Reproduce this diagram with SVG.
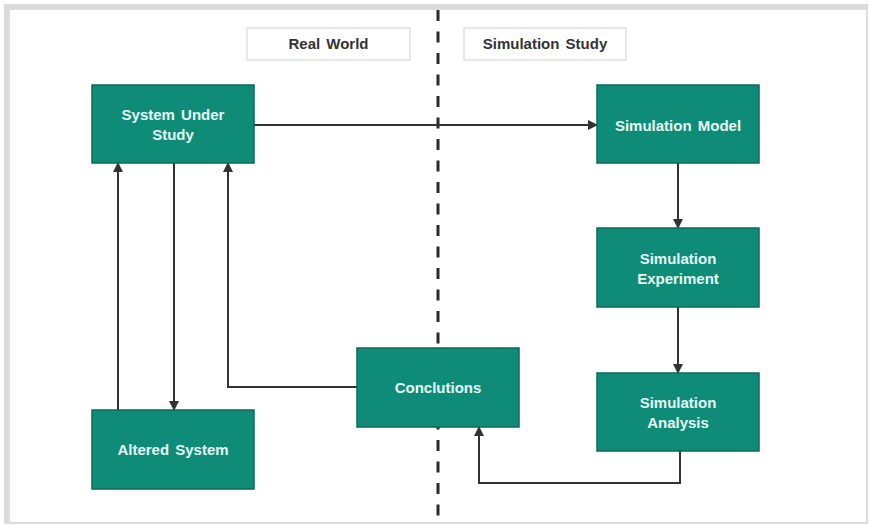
<svg xmlns="http://www.w3.org/2000/svg" width="869" height="525" viewBox="0 0 869 525">
  <style>
    .node rect { fill: #0f8c77; stroke: #0b6b5b; stroke-width: 1.5; }
    .node text { fill: #e6fbf5; font-family: "Liberation Sans", Arial, sans-serif; font-weight: bold; font-size: 15px; text-anchor: middle; word-spacing: 2px; }
    .label rect { fill: #ffffff; stroke: #d9d9d9; stroke-width: 1.2; }
    .label text { fill: #333333; font-family: "Liberation Sans", Arial, sans-serif; font-weight: bold; font-size: 15px; text-anchor: middle; word-spacing: 2px; }
    .conn { fill: none; stroke: #333333; stroke-width: 2; marker-end: url(#arrow); }
  </style>
  <defs>
    <marker id="arrow" markerWidth="10" markerHeight="10" refX="9" refY="5" orient="auto" markerUnits="userSpaceOnUse">
      <path d="M0,0 L10,5 L0,10 Z" fill="#333333"/>
    </marker>
  </defs>

  <!-- frame -->
  <rect x="0" y="0" width="869" height="525" fill="#ffffff"/>
  <rect x="4" y="4" width="864" height="520" fill="#dcdcdc"/>
  <rect x="10" y="10" width="856" height="512" fill="#ffffff"/>

  <!-- divider -->
  <line x1="438" y1="10" x2="438" y2="518" stroke="#2b2b2b" stroke-width="3" stroke-dasharray="11 10.5"/>

  <!-- section labels -->
  <g id="real-world" class="label">
    <rect x="247" y="28" width="163" height="32"/>
    <text x="328.5" y="49">Real World</text>
  </g>
  <g id="simulation-study" class="label">
    <rect x="464" y="28" width="162" height="32"/>
    <text x="545" y="49">Simulation Study</text>
  </g>

  <!-- connectors -->
  <g id="connectors">
    <path class="conn" d="M254,125 H597"/>
    <path class="conn" d="M678,163 V228"/>
    <path class="conn" d="M678,307 V373"/>
    <path class="conn" d="M680,451 V483 H479 V427"/>
    <path class="conn" d="M357,387 H228 V163"/>
    <path class="conn" d="M118,410 V163"/>
    <path class="conn" d="M174,163 V410"/>
  </g>

  <!-- nodes -->
  <g id="system-under-study" class="node">
    <rect x="92" y="85" width="162" height="78"/>
    <text x="173" y="120">System Under</text>
    <text x="173" y="140">Study</text>
  </g>
  <g id="simulation-model" class="node">
    <rect x="597" y="85" width="162" height="78"/>
    <text x="678" y="131">Simulation Model</text>
  </g>
  <g id="simulation-experiment" class="node">
    <rect x="597" y="228" width="162" height="79"/>
    <text x="678" y="264">Simulation</text>
    <text x="678" y="284">Experiment</text>
  </g>
  <g id="simulation-analysis" class="node">
    <rect x="597" y="373" width="162" height="78"/>
    <text x="678" y="408">Simulation</text>
    <text x="678" y="428">Analysis</text>
  </g>
  <g id="conclutions" class="node">
    <rect x="357" y="348" width="162" height="79"/>
    <text x="438" y="393">Conclutions</text>
  </g>
  <g id="altered-system" class="node">
    <rect x="92" y="410" width="162" height="79"/>
    <text x="173" y="455">Altered System</text>
  </g>
</svg>
